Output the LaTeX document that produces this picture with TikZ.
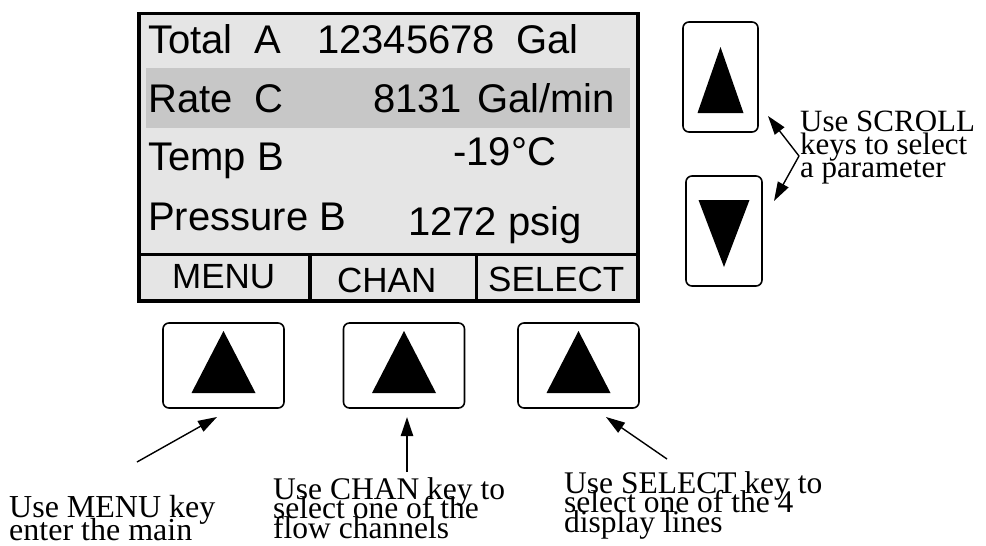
\documentclass[tikz,border=0pt]{standalone}
\usepackage{fontspec}
\setmainfont{Liberation Serif}
\newfontfamily\lcdfont{Liberation Sans}
\usetikzlibrary{arrows.meta}
\newcommand{\notefont}[2]{\fontsize{#1}{#2}\selectfont\lineskiplimit=-50pt\relax}

\begin{document}
\begin{tikzpicture}[
    x=1pt,
    y=-1pt,
    >={Triangle[length=19pt,width=12pt]},
    lcd/.style={
        anchor=base west,
        inner sep=0pt,
        font=\lcdfont\fontsize{40}{48}\selectfont
    },
    softkey/.style={
        anchor=base west,
        inner sep=0pt,
        font=\lcdfont\fontsize{35}{42}\selectfont
    },
    key/.style={
        draw,
        line width=1.6pt,
        rounded corners=6pt,
        inner sep=0pt
    },
    note/.style={
        anchor=base west,
        inner sep=0pt,
        align=left
    },
    arrow/.style={
        ->,
        line width=1.4pt
    }
]

    \useasboundingbox (0,0) rectangle (986,546);

    % Displej
    \fill[black!10] (139,13.5) rectangle (638,301);
    \fill[black!22] (146,68) rectangle (630,128);
    \draw[line width=3.5pt] (139,13.5) rectangle (638,301);
    \draw[line width=3.5pt] (139,254.5) -- (638,254.5);
    \foreach \x in {310,476.5}{
        \draw[line width=3.5pt] (\x,254.5) -- (\x,301);
    }

    % Řádky displeje
    \node[lcd] (total) at (148,53) {Total};
    \node[lcd] (totalch) at (254,53) {A};
    \node[lcd] (totalval) at (317,53) {12345678};
    \node[lcd] (totalunit) at (516,53) {Gal};
    \node[lcd] (rate) at (148,112) {Rate};
    \node[lcd] (ratech) at (254,112) {C};
    \node[lcd] (rateval) at (373,112) {8131};
    \node[lcd] (rateunit) at (477,112) {Gal/min};
    \node[lcd] (temp) at (148,170) {Temp B};
    \node[lcd] (tempval) at (453,165) {-19°C};
    \node[lcd] (press) at (148,230) {Pressure B};
    \node[lcd] (pressval) at (408,235) {1272 psig};

    % Popisky tlačítek
    \node[softkey] (menu) at (172,288) {MENU};
    \node[softkey] (chan) at (337,292) {CHAN};
    \node[softkey] (select) at (488,291) {SELECT};

    % Spodní tlačítka
    \foreach \n/\x in {menukey/223.5,chankey/404,selkey/578.5}{
        \node[key, minimum width=121pt, minimum height=85pt] (\n) at (\x,365.5) {};
        \fill[shift={(\n.center)}] (-32,27.5) -- (0,-34.5) -- (32,27.5) -- cycle;
    }

    % Tlačítka SCROLL
    \node[key, minimum width=75pt, minimum height=110pt] (upkey) at (720.5,77) {};
    \fill[shift={(upkey.center)}] (-23,36) -- (0,-30) -- (23,36) -- cycle;
    \node[key, minimum width=76pt, minimum height=110pt] (downkey) at (724,231) {};
    \fill[shift={(downkey.center)}] (-25.5,-31) -- (0,36) -- (25.5,-31) -- cycle;

    % Poznámky (kotva = účaří posledního řádku)
    \node[note, font=\notefont{31}{23}] (scrollnote) at (800,177)
        {Use SCROLL\\keys to select\\a parameter};
    \node[note, font=\notefont{32}{23}] (menunote) at (9,540)
        {Use MENU key\\enter the main};
    \node[note, font=\notefont{31.5}{19.5}] (channote) at (273,538)
        {Use CHAN key to\\select one of the\\flow channels};
    \node[note, font=\notefont{31.5}{19.5}] (selnote) at (564,532)
        {Use SELECT key to\\select one of the 4\\display lines};

    % Šipky
    \coordinate (scrolltail) at (799,156);
    \coordinate (uptip) at (768,116);
    \coordinate (downtip) at (774,201);
    \coordinate (menutail) at (137,462);
    \coordinate (menutip) at (217,417);
    \coordinate (chantail) at (407,472);
    \coordinate (chantip) at (407,417);
    \coordinate (seltail) at (667,459);
    \coordinate (seltip) at (606,417);

    \draw[arrow] (scrolltail) -- (uptip);
    \draw[arrow] (scrolltail) -- (downtip);
    \draw[arrow] (menutail) -- (menutip);
    \draw[arrow, line width=2.4pt] (chantail) -- (chantip);
    \draw[arrow] (seltail) -- (seltip);

\end{tikzpicture}
\end{document}
